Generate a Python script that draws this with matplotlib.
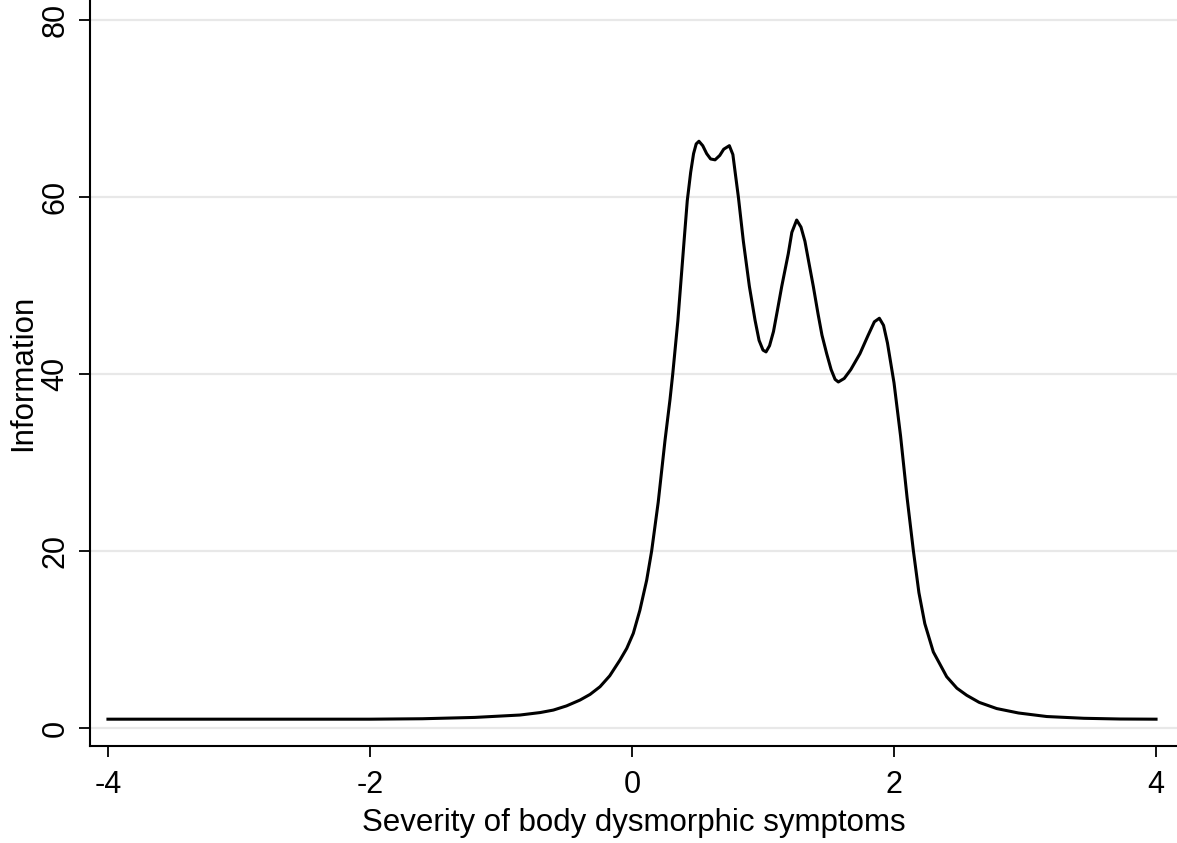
import matplotlib
matplotlib.use("Agg")
import matplotlib.pyplot as plt

# Test information curve
theta = [-4.0, -3.0, -2.0, -1.6, -1.2, -0.855, -0.7, -0.6, -0.5, -0.397,
         -0.32, -0.244, -0.17, -0.092, -0.04, 0.01, 0.06, 0.112, 0.15, 0.2,
         0.252, 0.29, 0.311, 0.35, 0.4, 0.422, 0.448, 0.47, 0.49, 0.511, 0.54,
         0.57, 0.6, 0.634, 0.67, 0.7, 0.743, 0.77, 0.79, 0.812, 0.85, 0.896,
         0.939, 0.97, 1.0, 1.023, 1.05, 1.08, 1.11, 1.143, 1.193, 1.22, 1.257,
         1.29, 1.32, 1.35, 1.384, 1.42, 1.45, 1.486, 1.52, 1.55, 1.575, 1.62,
         1.67, 1.74, 1.80, 1.85, 1.888, 1.92, 1.95, 2.0, 2.05, 2.1, 2.148,
         2.19, 2.235, 2.30, 2.402, 2.48, 2.555, 2.65, 2.784, 2.95, 3.166,
         3.45, 3.725, 4.0]
info = [1.0, 1.0, 1.0, 1.05, 1.2, 1.47, 1.75, 2.03, 2.5, 3.16,
        3.8, 4.67, 5.9, 7.68, 9.0, 10.7, 13.3, 16.7, 20.0, 25.5,
        32.5, 37.1, 40.0, 46.0, 55.5, 59.6, 62.8, 64.9, 66.0, 66.3, 65.8,
        64.9, 64.3, 64.2, 64.7, 65.4, 65.8, 64.8, 62.5, 60.0, 55.0, 49.9,
        46.1, 43.8, 42.7, 42.5, 43.2, 44.8, 47.2, 49.9, 53.6, 56.0, 57.4,
        56.6, 55.0, 52.6, 49.9, 46.8, 44.4, 42.3, 40.5, 39.4, 39.1, 39.5,
        40.5, 42.3, 44.3, 45.9, 46.3, 45.5, 43.5, 39.0, 33.0, 26.0, 20.0,
        15.3, 11.8, 8.6, 5.8, 4.5, 3.7, 2.9, 2.2, 1.7, 1.3,
        1.1, 1.02, 1.0]

x_ticks = [-4, -2, 0, 2, 4]
y_ticks = [0, 20, 40, 60, 80]

plt.rcParams["font.family"] = ["Liberation Sans", "DejaVu Sans"]

fig = plt.figure(figsize=(11.77, 8.43), dpi=100)
ax = fig.add_axes([90 / 1177, 97 / 843, 1087 / 1177, 746 / 843])

# light horizontal grid, Stata style
for yv in y_ticks:
    ax.axhline(yv, color="#e8e8e8", lw=1.6, zorder=0)

ax.plot(theta, info, color="black", lw=2.2, zorder=3)

ax.set_xlim(-4.137, 4.160)
ax.set_ylim(-2.03, 82.26)
ax.set_xticks(x_ticks)
ax.set_yticks(y_ticks)
ax.set_xticklabels([str(v) for v in x_ticks], fontsize=22)
ax.set_yticklabels([str(v) for v in y_ticks], fontsize=22, rotation=90, va="center")

ax.spines["top"].set_visible(False)
ax.spines["right"].set_visible(False)
ax.spines["left"].set_linewidth(1.5)
ax.spines["bottom"].set_linewidth(1.5)
ax.tick_params(direction="out", length=8, width=1.3)
ax.tick_params(axis="x", pad=9)
ax.tick_params(axis="y", pad=6)

ax.set_xlabel("Severity of body dysmorphic symptoms", fontsize=22.5, labelpad=6)
ax.set_ylabel("Information", fontsize=22.5, labelpad=2)

fig.savefig("out.png", dpi=100)
